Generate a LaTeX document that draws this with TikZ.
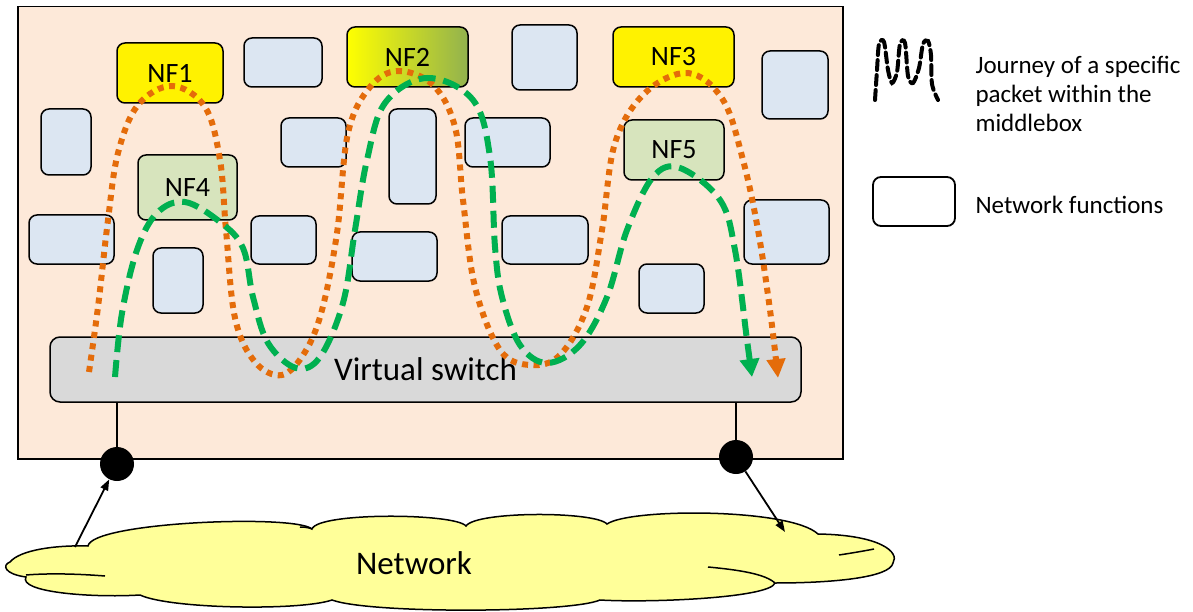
\documentclass[tikz,border=0pt]{standalone}
\usepackage{fontspec}
\setmainfont{Carlito}
\usetikzlibrary{arrows.meta}
\definecolor{bgpeach}{RGB}{253,233,217}
\definecolor{nfblue}{RGB}{220,230,242}
\definecolor{nfgreen}{RGB}{215,228,189}
\definecolor{swgray}{RGB}{217,217,217}
\definecolor{pathorange}{RGB}{228,108,10}
\definecolor{pathgreen}{RGB}{0,176,80}
\definecolor{cloudyellow}{RGB}{255,255,153}
\definecolor{nfolive}{RGB}{146,178,78}
\begin{document}
\begin{tikzpicture}[x=1pt,y=-1pt,
  nfbox/.style={draw=black, line width=1.5pt, rounded corners=8pt, inner sep=0pt, outer sep=0pt, fill=nfblue},
  nflabel/.style={font=\fontsize{28}{34}\selectfont},
  orangepath/.style={draw=pathorange, line width=6pt, dash pattern=on 6pt off 5.5pt},
  greenpath/.style={draw=pathgreen, line width=6pt, dash pattern=on 17pt off 8pt},
  dot/.style={circle, fill=black, minimum size=34pt, inner sep=0pt},
  netarrow/.style={line width=1.8pt, -{Triangle[length=11pt,width=8pt]}},
]
\useasboundingbox (0,0) rectangle (1193,612);
% middlebox
\node[draw=black, fill=bgpeach, line width=1.5pt, minimum width=825pt, minimum height=452pt, inner sep=0pt, anchor=north west] (mb) at (17,6) {};
% blank network functions
\node[nfbox, minimum width=78pt, minimum height=49pt] (b1) at (283,62.5) {};
\node[nfbox, minimum width=65pt, minimum height=65pt] (b2) at (544.5,57.5) {};
\node[nfbox, minimum width=66pt, minimum height=68pt] (b3) at (795,85) {};
\node[nfbox, minimum width=50pt, minimum height=66pt] (b4) at (66,142) {};
\node[nfbox, minimum width=65pt, minimum height=49pt] (b5) at (313.5,142.5) {};
\node[nfbox, minimum width=47pt, minimum height=95pt] (b6) at (412.5,156.5) {};
\node[nfbox, minimum width=85pt, minimum height=49pt] (b7) at (507.5,142.5) {};
\node[nfbox, minimum width=85pt, minimum height=49pt] (b8) at (71.5,239.5) {};
\node[nfbox, minimum width=65pt, minimum height=48pt] (b9) at (283.5,240) {};
\node[nfbox, minimum width=85pt, minimum height=49pt] (b10) at (394.5,256.5) {};
\node[nfbox, minimum width=50pt, minimum height=65pt] (b11) at (178,280.5) {};
\node[nfbox, minimum width=86pt, minimum height=48pt] (b12) at (545,240) {};
\node[nfbox, minimum width=85pt, minimum height=64pt] (b13) at (786.5,232) {};
\node[nfbox, minimum width=65pt, minimum height=49pt] (b14) at (671.5,288.5) {};
% named network functions
\node[nfbox, nflabel, fill=yellow, minimum width=106pt, minimum height=60pt] (nf1) at (170,73) {NF1};
\node[nfbox, nflabel, left color=yellow, right color=nfolive, minimum width=121pt, minimum height=60pt] (nf2) at (407.5,57) {NF2};
\node[nfbox, nflabel, fill=yellow, minimum width=121pt, minimum height=60pt] (nf3) at (673.5,57) {NF3};
\node[nfbox, nflabel, fill=nfgreen, minimum width=99pt, minimum height=65pt] (nf4) at (187.5,187.5) {NF4};
\node[nfbox, nflabel, fill=nfgreen, minimum width=100pt, minimum height=60pt] (nf5) at (674,150) {NF5};
% virtual switch
\node[draw=black, line width=1.5pt, rounded corners=10pt, fill=swgray, minimum width=751pt, minimum height=65pt, inner sep=0pt, font=\fontsize{33}{40}\selectfont] (sw) at (425.5,369.5) {Virtual switch};
% packet journeys
\draw[orangepath, -{Triangle[length=19pt,width=18pt]}] plot[smooth, tension=0.6] coordinates {(89,372) (98,307) (108,220) (118,153) (138,105) (172,86) (205,107) (220,160) (226,230) (235,318) (255,362) (282,375) (305,352) (322,310) (337,233) (348,133) (370,87) (398,71) (433,85) (455,127) (463,200) (475,287) (500,350) (530,365) (560,355) (587,307) (602,230) (615,143) (645,93) (688,73) (723,100) (743,160) (758,230) (770,310) (778,378)};
\draw[greenpath, -{Triangle[length=18pt,width=19pt]}] plot[smooth, tension=0.6] coordinates {(115,377) (122,313) (137,250) (157,213) (185,202) (220,222) (243,248) (253,297) (268,343) (296,368) (320,357) (343,303) (355,230) (367,160) (385,103) (427,78) (473,100) (490,157) (495,247) (502,297) (520,345) (547,363) (580,345) (607,297) (627,230) (653,177) (680,168) (720,200) (735,250) (747,340) (752,377)};
% ports
\node[dot] (p1) at (117,464) {};
\node[dot] (p2) at (736,457) {};
\draw[line width=1.8pt] (sw.south -| p1) -- (p1);
\draw[line width=1.8pt] (sw.south -| p2) -- (p2);
% network cloud
\draw[fill=cloudyellow, line width=1.5pt]
  (10,562) .. controls (20,550) and (55,545) .. (88,546)
  .. controls (92,522) and (295,514) .. (312,529)
  .. controls (318,512) and (455,513) .. (466,526)
  .. controls (476,511) and (595,511) .. (607,524)
  .. controls (630,508) and (790,508) .. (818,534)
  .. controls (880,535) and (900,552) .. (893,563)
  .. controls (890,578) and (830,583) .. (775,583)
  .. controls (770,598) and (650,603) .. (600,600)
  .. controls (570,613) and (370,614) .. (332,600)
  .. controls (300,611) and (170,609) .. (140,595)
  .. controls (90,598) and (18,592) .. (26,577)
  .. controls (4,574) and (2,565) .. (10,562) -- cycle;
\draw[line width=1.5pt] (26,575) .. controls (50,573) and (80,574) .. (105,576);
\draw[line width=1.5pt] (708,567) .. controls (740,570) and (765,574) .. (775,583);
\draw[line width=1.5pt] (839,555) .. controls (852,553) and (864,551) .. (874,549);
\draw[line width=1.5pt] (300,527) .. controls (306,527) and (310,528) .. (312,529);
\node[font=\fontsize{33}{40}\selectfont] (net) at (414,563) {Network};
\coordinate (a1) at (75,547);
\coordinate (a2) at (785,532);
\draw[netarrow] (a1) -- (p1);
\draw[netarrow] (p2) -- (a2);
% legend
\draw[black, line width=4pt, dash pattern=on 10pt off 5pt, line cap=round] plot[smooth, tension=0.5] coordinates {(875,100) (877,70) (879,44) (884,42) (888,70) (892,83) (897,72) (900,44) (905,43) (908,76) (913,83) (919,68) (923,44) (928,41) (931,55) (932,84) (938,100)};
\node[anchor=west, align=left, font=\fontsize{25}{29}\selectfont] (lg1) at (972,94) {Journey of a specific\\packet within the\\middlebox};
\node[draw=black, line width=1.8pt, rounded corners=8pt, fill=white, minimum width=82pt, minimum height=49pt, inner sep=0pt] (lgbox) at (914,201.5) {};
\node[anchor=west, font=\fontsize{25}{29}\selectfont] (lg2) at (972,205) {Network functions};
\end{tikzpicture}
\end{document}
